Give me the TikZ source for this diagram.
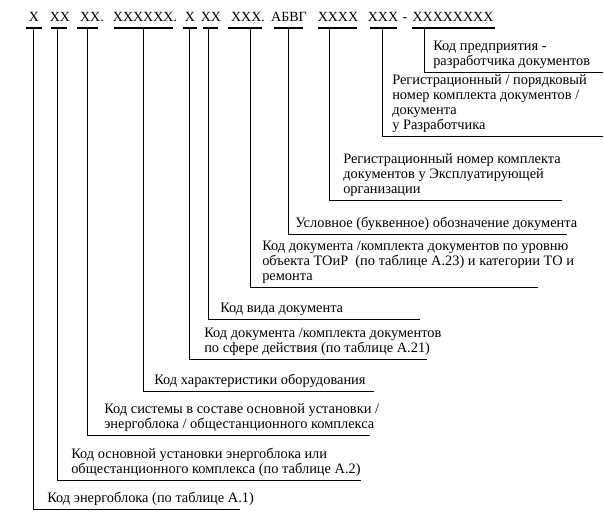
\documentclass[tikz,border=0pt]{standalone}
\usepackage{fontspec}
\setmainfont{Liberation Serif}
\begin{document}
\begin{tikzpicture}[
    x=0.75pt, y=-0.75pt,
    code/.style={anchor=base, inner sep=0pt, font=\fontsize{10.5}{12}\selectfont},
    desc/.style={anchor=south west, inner sep=0pt, yshift=2.5pt, align=left,
                 font=\fontsize{10.8}{11.25}\selectfont},
    bar/.style={line width=1.4pt},
    link/.style={line width=0.6pt}
  ]
  \useasboundingbox (0,0) rectangle (604,517);

  % designation line
  \node[code] (h1) at (34,22) {X};
  \node[code] (h2) at (60,22) {XX};
  \node[code] (h3) at (92,22) {XX.};
  \node[code] (h4) at (145,22) {XXXXXX.};
  \node[code] (h5) at (190,22) {X};
  \node[code] (h6) at (211,22) {XX};
  \node[code] (h7) at (248,22) {XXX.};
  \node[code] (h8) at (289,22) {АБВГ};
  \node[code] (h9) at (338,22) {XXXX};
  \node[code] (h10) at (383,22) {XXX};
  \node[code] (hdash) at (405,22) {-};
  \node[code] (h11) at (453,22) {XXXXXXXX};

  % underlines
  \draw[bar] (26,28) -- (42,28);
  \draw[bar] (51,28) -- (67,28);
  \draw[bar] (77,28) -- (98,28);
  \draw[bar] (114,28) -- (173,28);
  \draw[bar] (183,28) -- (197,28);
  \draw[bar] (203,28) -- (218,28);
  \draw[bar] (228,28) -- (262,28);
  \draw[bar] (274,28) -- (303,28);
  \draw[bar] (318,28) -- (357,28);
  \draw[bar] (370,28) -- (397,28);
  \draw[bar] (412,28) -- (495,28);

  % where the leaders start and end
  \coordinate (v1) at (33,28);   \coordinate (e1) at (240,509);
  \coordinate (v2) at (57,28);   \coordinate (e2) at (361,480);
  \coordinate (v3) at (87,28);   \coordinate (e3) at (370,435);
  \coordinate (v4) at (143,28);  \coordinate (e4) at (374,391);
  \coordinate (v5) at (189,28);  \coordinate (e5) at (427,359);
  \coordinate (v6) at (208,28);  \coordinate (e6) at (420,319);
  \coordinate (v7) at (250,28);  \coordinate (e7) at (538,287);
  \coordinate (v8) at (288,28);  \coordinate (e8) at (567,234);
  \coordinate (v9) at (329,28);  \coordinate (e9) at (562,200);
  \coordinate (v10) at (382,28); \coordinate (e10) at (603,136);
  \coordinate (v11) at (424,28); \coordinate (e11) at (603,72);

  \foreach \i in {1,...,11}
    \draw[link] (v\i) |- (e\i);

  % descriptions
  \node[desc] (d1) at (47,509) {Код энергоблока (по таблице А.1)};
  \node[desc] (d2) at (71,480) {Код основной установки энергоблока или\\общестанционного комплекса (по таблице А.2)};
  \node[desc] (d3) at (104,435) {Код системы в составе основной установки /\\энергоблока / общестанционного комплекса};
  \node[desc] (d4) at (154,391) {Код характеристики оборудования};
  \node[desc] (d5) at (204,359) {Код документа /комплекта документов\\по сфере действия (по таблице А.21)};
  \node[desc] (d6) at (220,319) {Код вида документа};
  \node[desc] (d7) at (262,287) {Код документа /комплекта документов по уровню\\объекта ТОиР\ \ (по таблице А.23) и категории ТО и\\ремонта};
  \node[desc] (d8) at (295,234) {Условное (буквенное) обозначение документа};
  \node[desc] (d9) at (343,200) {Регистрационный номер комплекта\\документов у Эксплуатирующей\\организации};
  \node[desc] (d10) at (392,136) {Регистрационный / порядковый\\номер комплекта документов /\\документа\\у Разработчика};
  \node[desc] (d11) at (433,72) {Код предприятия -\\разработчика документов};
\end{tikzpicture}
\end{document}
